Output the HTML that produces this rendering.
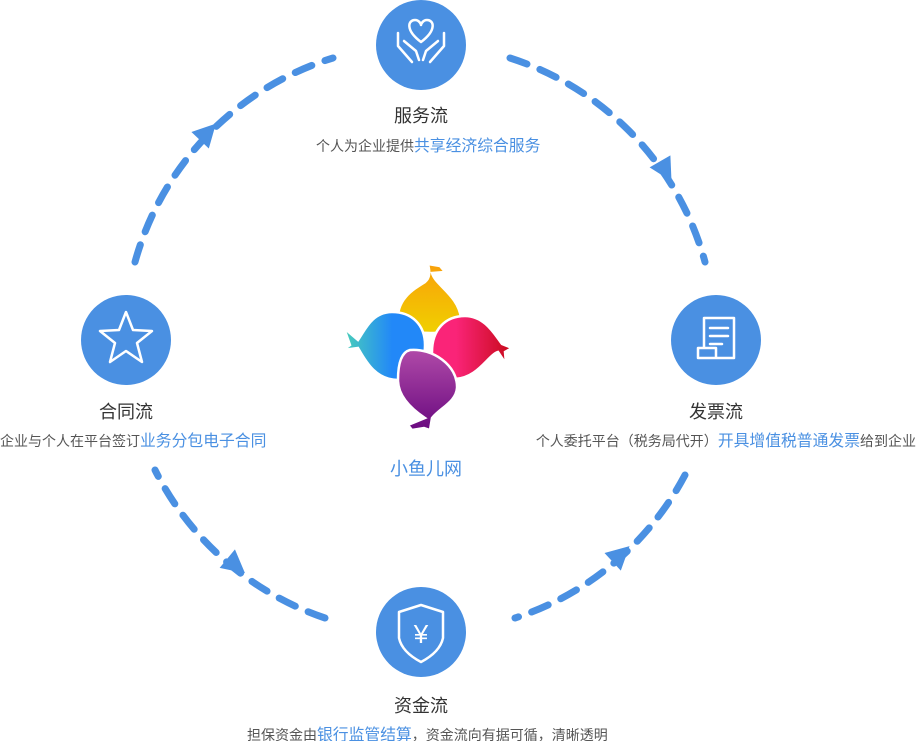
<!DOCTYPE html>
<html><head><meta charset="utf-8"><style>
html,body{margin:0;padding:0;background:#fff;width:916px;height:741px;overflow:hidden;position:relative;font-family:"Liberation Sans","Noto Sans CJK SC",sans-serif}
.t{position:absolute;font-size:18px;color:#333;text-align:center;white-space:nowrap}
.s{position:absolute;font-size:14px;color:#555;white-space:nowrap}
.s b{font-weight:normal;color:#4a90e2;font-size:15.8px}
</style></head><body>
<svg width="916" height="741" style="position:absolute;left:0;top:0">
<defs>
<linearGradient id="go" x1="0" y1="0" x2="0" y2="1"><stop offset="0" stop-color="#f9a00a"/><stop offset="1" stop-color="#f0d000"/></linearGradient>
<linearGradient id="gb" x1="0" y1="0" x2="1" y2="0"><stop offset="0" stop-color="#4ad0b8"/><stop offset="0.6" stop-color="#2288f8"/></linearGradient>
<linearGradient id="gr" x1="0" y1="0" x2="1" y2="0"><stop offset="0.3" stop-color="#fa2478"/><stop offset="1" stop-color="#c80a1a"/></linearGradient>
<linearGradient id="gp" x1="0" y1="0" x2="0" y2="1"><stop offset="0" stop-color="#b04aa8"/><stop offset="1" stop-color="#6a0a80"/></linearGradient>
</defs>
<g fill="none" stroke="#4a90e2" stroke-width="7" stroke-linecap="round" stroke-dasharray="18 14">
<path d="M135,262 A296,296 0 0 1 333,58"/>
<path d="M510,58 A296,296 0 0 1 705,262"/>
<path d="M325,618 A296,296 0 0 1 155,470"/>
<path d="M685,475 A296,296 0 0 1 515,618"/>
</g>
<g fill="#4a90e2">
<polygon points="13,0 -10,-12 -10,12" transform="translate(207,133) rotate(-46.5)"/>
<polygon points="13,0 -10,-12 -10,12" transform="translate(665,170) rotate(60)"/>
<polygon points="13,0 -10,-12 -10,12" transform="translate(235,565) rotate(39.6)"/>
<polygon points="13,0 -10,-12 -10,12" transform="translate(620,555) rotate(-42.8)"/>
<circle cx="421" cy="45" r="45"/>
<circle cx="126" cy="340" r="45"/>
<circle cx="716" cy="340" r="45"/>
<circle cx="421" cy="632" r="45"/>
</g>
<g fill="none" stroke="#fff" stroke-width="2.5" stroke-linecap="round" stroke-linejoin="round">
<path d="M421,42 C405,30 408,20 415,20 C419,20 421,24 421,25 C421,24 423,20 427,20 C434,20 437,30 421,42Z"/>
<path d="M398,33 L398,46 L412,62 M404,41 L416,51 L419,60"/>
<path d="M444,33 L444,46 L430,62 M438,41 L426,51 L423,60"/>
<polygon points="126,312 133,330 152,331 137,343 142,362 126,351 110,362 115,343 100,331 119,330"/>
<path d="M704,318 L734,318 L734,358 L716,358 M704,318 L704,348 L698,348 L698,358 L716,358 M704,348 L716,348 L716,358 M710,328 L728,328 M710,336 L728,336 M710,344 L722,344"/>
<path d="M421,605 L443,612 L443,638 Q440,652 421,662 Q402,652 399,638 L399,612 Z"/>
</g>
<text x="421" y="643" fill="#fff" font-size="26" text-anchor="middle" font-family="Liberation Sans,sans-serif">¥</text>
<g stroke="#fff" stroke-width="2.5">
<path d="M398,322 C396,300 412,290 425,282 C430,278 430,272 428,264 L440,266 L445,272 L432,273 C435,285 458,295 461,318 C462,328 450,333 430,333 C410,333 399,330 398,322Z" fill="url(#go)"/>
<path d="M432,352 C432,330 445,316 465,316 C485,316 495,335 502,344 L512,348 L505,352 L506,364 L498,352 C488,355 478,378 455,379 C440,379 432,368 432,352Z" fill="url(#gr)"/>
<path d="M425,345 C425,325 412,312 392,312 C372,312 365,330 358,340 L344,328 L350,345 L343,350 L358,348 C365,360 375,380 398,380 C415,380 425,365 425,345Z" fill="url(#gb)"/>
<path d="M410,350 C432,348 458,365 457,388 C456,402 440,408 432,418 L430,430 L424,428 L412,430 L408,425 L425,418 C410,408 398,395 398,380 C398,362 402,352 410,350Z" fill="url(#gp)"/>
</g>
</svg>
<div class="t" style="left:371px;top:102px;width:100px">服务流</div>
<div class="s" style="left:316px;top:133px">个人为企业提供<b>共享经济综合服务</b></div>
<div class="t" style="left:76px;top:398px;width:100px">合同流</div>
<div class="s" style="left:0px;top:428px">企业与个人在平台签订<b>业务分包电子合同</b></div>
<div class="t" style="left:666px;top:398px;width:100px">发票流</div>
<div class="s" style="right:0px;top:428px">个人委托平台（税务局代开）<b>开具增值税普通发票</b>给到企业</div>
<div class="t" style="left:371px;top:692px;width:100px">资金流</div>
<div class="s" style="left:247px;top:722px">担保资金由<b>银行监管结算</b>，资金流向有据可循，清晰透明</div>
<div class="t" style="top:455px;width:110px;color:#4a90e2;left:371px">小鱼儿网</div>
</body></html>
